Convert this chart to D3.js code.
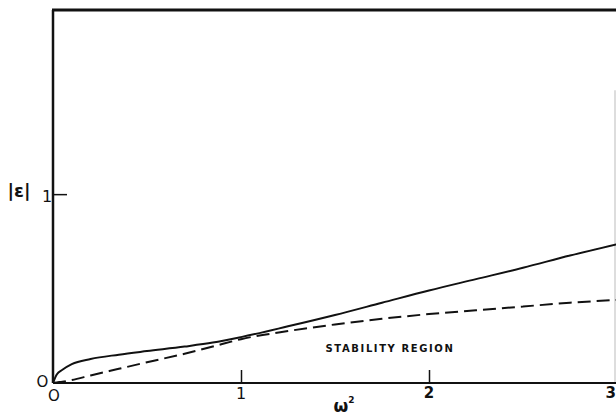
<!DOCTYPE html>
<html>
<head>
<meta charset="utf-8">
<script src="https://cdn.jsdelivr.net/npm/d3@7"></script>
<style>
  body { margin: 0; background: #fff; }
  svg { display: block; }
  text { font-family: "DejaVu Sans", sans-serif; fill: #111; }
</style>
</head>
<body>
<div id="chart"></div>
<script>
// omega^2 samples and the two |eps| curves
var omega2 = [0, 0.02, 0.05, 0.1, 0.2, 0.35, 0.5, 0.7, 0.85, 1.0, 1.25, 1.5, 1.75, 2.0, 2.25, 2.5, 2.75, 3.0];
var solidEps = [0, 0.045, 0.07, 0.1, 0.127, 0.15, 0.169, 0.193, 0.214, 0.243, 0.3, 0.36, 0.425, 0.49, 0.55, 0.61, 0.675, 0.735];
var dashedEps = [0, 0.003, 0.007, 0.016, 0.04, 0.075, 0.11, 0.155, 0.193, 0.232, 0.275, 0.31, 0.34, 0.365, 0.385, 0.405, 0.425, 0.44];
var xTicks = [1, 2, 3];
var xTickLabels = ["1", "2", "3"];
var yTicks = [1];

var W = 616, H = 417;
var svg = d3.select("#chart").append("svg")
  .attr("width", W)
  .attr("height", H);

var x = d3.scaleLinear().domain([0, 3]).range([53, 617]);
var y = d3.scaleLinear().domain([0, 1.975]).range([383, 10]);

// frame: faint right edge, heavy top and left, bottom axis
svg.append("line")
  .attr("x1", 615).attr("x2", 615)
  .attr("y1", y(1.55)).attr("y2", y(0))
  .attr("stroke", "#bbb").attr("stroke-width", 1);
svg.append("line")
  .attr("x1", x(0) - 1).attr("x2", W)
  .attr("y1", y(1.975)).attr("y2", y(1.975))
  .attr("stroke", "#111").attr("stroke-width", 3);
svg.append("line")
  .attr("x1", x(0)).attr("x2", x(0))
  .attr("y1", y(1.975)).attr("y2", y(0))
  .attr("stroke", "#111").attr("stroke-width", 2.5);
svg.append("line")
  .attr("x1", x(0)).attr("x2", W)
  .attr("y1", y(0)).attr("y2", y(0))
  .attr("stroke", "#111").attr("stroke-width", 2);

// ticks pointing inward
var xAxis = svg.append("g")
  .attr("transform", "translate(0," + y(0) + ")")
  .call(d3.axisBottom(x).tickValues(xTicks.slice(0, 2)).tickSize(-13).tickFormat(""));
xAxis.select(".domain").remove();
xAxis.selectAll(".tick line").attr("stroke", "#111").attr("stroke-width", 1.5);

var yAxis = svg.append("g")
  .attr("transform", "translate(" + x(0) + ",0)")
  .call(d3.axisLeft(y).tickValues(yTicks).tickSize(-14).tickFormat(""));
yAxis.select(".domain").remove();
yAxis.selectAll(".tick line").attr("stroke", "#111").attr("stroke-width", 1.5);

// tick labels
svg.selectAll(".xlab")
  .data(xTicks)
  .enter()
  .append("text")
  .attr("class", "xlab")
  .attr("x", function(d) { return d === 3 ? W : x(d); })
  .attr("y", function(d) { return d === 1 ? 399 : 398; })
  .attr("text-anchor", function(d) { return d === 3 ? "end" : "middle"; })
  .attr("font-size", function(d) { return d === 1 ? 16 : 15; })
  .attr("font-weight", function(d) { return d === 1 ? "normal" : "bold"; })
  .text(function(d, i) { return xTickLabels[i]; });

svg.append("text")
  .attr("x", 47).attr("y", y(1) + 8)
  .attr("text-anchor", "middle")
  .attr("font-size", 16)
  .text("1");

// zero labels
svg.append("text")
  .attr("x", 42.5).attr("y", 386.5)
  .attr("text-anchor", "middle")
  .attr("font-size", 15)
  .text("O");
svg.append("text")
  .attr("x", 54).attr("y", 400.5)
  .attr("text-anchor", "middle")
  .attr("font-size", 15)
  .text("O");

// axis titles
svg.append("text")
  .attr("x", 19).attr("y", 197)
  .attr("text-anchor", "middle")
  .attr("font-size", 18)
  .attr("font-weight", "bold")
  .text("|\u03b5|");

var xt = svg.append("text")
  .attr("x", 344).attr("y", 412)
  .attr("text-anchor", "middle")
  .attr("font-size", 17)
  .attr("font-weight", "bold");
xt.append("tspan").text("\u03c9");
xt.append("tspan").attr("font-size", 9).attr("dy", -9).text("2");

svg.append("text")
  .attr("x", 390).attr("y", 352)
  .attr("text-anchor", "middle")
  .attr("font-size", 10)
  .attr("font-weight", "bold")
  .attr("letter-spacing", 1.6)
  .text("STABILITY REGION");

// curves
var line = d3.line()
  .x(function(d) { return x(d[0]); })
  .y(function(d) { return y(d[1]); })
  .curve(d3.curveMonotoneX);

svg.append("path")
  .datum(omega2.map(function(d, i) { return [d, solidEps[i]]; }))
  .attr("fill", "none")
  .attr("stroke", "#111")
  .attr("stroke-width", 2)
  .attr("d", line);

svg.append("path")
  .datum(omega2.map(function(d, i) { return [d, dashedEps[i]]; }))
  .attr("fill", "none")
  .attr("stroke", "#111")
  .attr("stroke-width", 2)
  .attr("stroke-dasharray", "13,6")
  .attr("d", line);
</script>
</body>
</html>
